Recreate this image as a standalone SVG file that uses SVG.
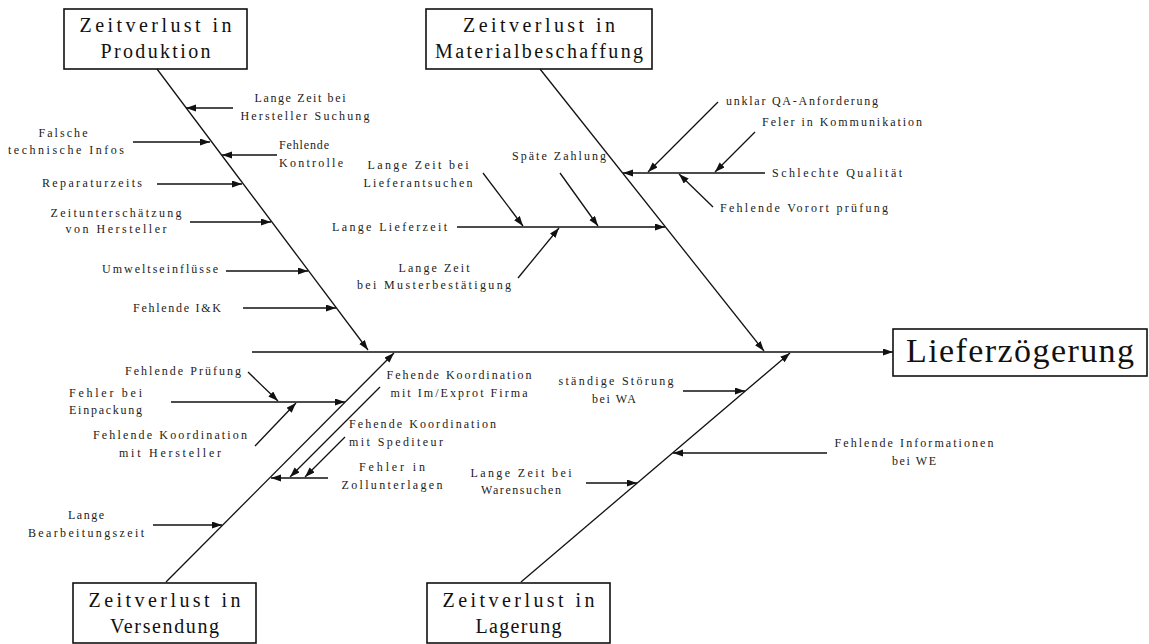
<svg xmlns="http://www.w3.org/2000/svg" width="1149" height="644" viewBox="0 0 1149 644">
  <style>
    .box { fill: #fff; stroke: #111; stroke-width: 1.6; }
    .title { font-family: "Liberation Serif", "DejaVu Serif", serif; font-size: 20px; fill: #111; text-anchor: middle; }
    .effect { font-family: "Liberation Serif", "DejaVu Serif", serif; font-size: 34px; fill: #111; text-anchor: middle; }
    .lbl { font-family: "Liberation Serif", "DejaVu Serif", serif; font-size: 12px; fill: #222; }
    .mid { text-anchor: middle; }
    .edge { stroke: #111; stroke-width: 1.3; fill: none; marker-end: url(#arrow); }
    .main { stroke-width: 1.6; }
  </style>
  <defs>
    <marker id="arrow" markerUnits="userSpaceOnUse" markerWidth="11" markerHeight="8" refX="10" refY="3.5" orient="auto">
      <path d="M0,0 L10,3.5 L0,7 z" fill="#111"/>
    </marker>
  </defs>
  <rect width="1149" height="644" fill="#fff"/>

  <!-- category boxes -->
  <g id="produktion">
    <rect class="box" x="64" y="9" width="183" height="60"/>
    <text class="title" x="155.5" y="32" textLength="152" lengthAdjust="spacing">Zeitverlust in</text>
    <text class="title" x="155.5" y="58" textLength="110" lengthAdjust="spacing">Produktion</text>
  </g>
  <g id="materialbeschaffung">
    <rect class="box" x="426" y="9" width="226" height="60"/>
    <text class="title" x="539" y="32" textLength="152" lengthAdjust="spacing">Zeitverlust in</text>
    <text class="title" x="539" y="58" textLength="208" lengthAdjust="spacing">Materialbeschaffung</text>
  </g>
  <g id="versendung">
    <rect class="box" x="73" y="583" width="183" height="60"/>
    <text class="title" x="164.5" y="607" textLength="152" lengthAdjust="spacing">Zeitverlust in</text>
    <text class="title" x="164.5" y="633" textLength="109" lengthAdjust="spacing">Versendung</text>
  </g>
  <g id="lagerung">
    <rect class="box" x="427" y="583" width="183" height="60"/>
    <text class="title" x="518.5" y="607" textLength="152" lengthAdjust="spacing">Zeitverlust in</text>
    <text class="title" x="518.5" y="633" textLength="86" lengthAdjust="spacing">Lagerung</text>
  </g>
  <g id="lieferzoegerung">
    <rect class="box" x="893" y="329" width="254" height="47"/>
    <text class="effect" x="1020" y="362" textLength="228" lengthAdjust="spacing">Lieferzögerung</text>
  </g>

  <!-- cause labels -->
  <g id="causes-produktion" class="lbl">
    <text class="mid" x="300" y="102" textLength="91" lengthAdjust="spacing">Lange Zeit bei</text>
    <text class="mid" x="305" y="120" textLength="129" lengthAdjust="spacing">Hersteller Suchung</text>
    <text class="mid" x="63" y="137" textLength="49" lengthAdjust="spacing">Falsche</text>
    <text class="mid" x="66" y="154" textLength="116" lengthAdjust="spacing">technische Infos</text>
    <text x="279" y="149" textLength="50" lengthAdjust="spacing">Fehlende</text>
    <text x="279" y="167" textLength="64" lengthAdjust="spacing">Kontrolle</text>
    <text x="42" y="187" textLength="100" lengthAdjust="spacing">Reparaturzeits</text>
    <text class="mid" x="116" y="217" textLength="131" lengthAdjust="spacing">Zeitunterschätzung</text>
    <text class="mid" x="116" y="233" textLength="101" lengthAdjust="spacing">von Hersteller</text>
    <text x="102" y="273" textLength="116" lengthAdjust="spacing">Umweltseinflüsse</text>
    <text x="133" y="312" textLength="88" lengthAdjust="spacing">Fehlende I&amp;K</text>
  </g>
  <g id="causes-material" class="lbl">
    <text class="mid" x="418" y="169" textLength="101" lengthAdjust="spacing">Lange Zeit bei</text>
    <text class="mid" x="418" y="187" textLength="109" lengthAdjust="spacing">Lieferantsuchen</text>
    <text x="512" y="160" textLength="94" lengthAdjust="spacing">Späte Zahlung</text>
    <text x="332" y="231" textLength="115" lengthAdjust="spacing">Lange Lieferzeit</text>
    <text class="mid" x="434" y="272" textLength="71" lengthAdjust="spacing">Lange Zeit</text>
    <text class="mid" x="434" y="289" textLength="154" lengthAdjust="spacing">bei Musterbestätigung</text>
    <text x="726" y="105" textLength="152" lengthAdjust="spacing">unklar QA-Anforderung</text>
    <text x="762" y="126" textLength="160" lengthAdjust="spacing">Feler in Kommunikation</text>
    <text x="772" y="177" textLength="130" lengthAdjust="spacing">Schlechte Qualität</text>
    <text x="720" y="212" textLength="168" lengthAdjust="spacing">Fehlende Vorort prüfung</text>
  </g>
  <g id="causes-versendung" class="lbl">
    <text x="125" y="375" textLength="116" lengthAdjust="spacing">Fehlende Prüfung</text>
    <text x="69" y="397" textLength="73" lengthAdjust="spacing">Fehler bei</text>
    <text x="69" y="414" textLength="73" lengthAdjust="spacing">Einpackung</text>
    <text class="mid" x="170" y="439" textLength="154" lengthAdjust="spacing">Fehlende Koordination</text>
    <text class="mid" x="170" y="457" textLength="102" lengthAdjust="spacing">mit Hersteller</text>
    <text class="mid" x="459" y="379" textLength="145" lengthAdjust="spacing">Fehende Koordination</text>
    <text class="mid" x="459" y="397" textLength="137" lengthAdjust="spacing">mit Im/Exprot Firma</text>
    <text x="349" y="428" textLength="147" lengthAdjust="spacing">Fehende Koordination</text>
    <text x="349" y="446" textLength="94" lengthAdjust="spacing">mit Spediteur</text>
    <text class="mid" x="392" y="471" textLength="66" lengthAdjust="spacing">Fehler in</text>
    <text class="mid" x="392" y="489" textLength="101" lengthAdjust="spacing">Zollunterlagen</text>
    <text class="mid" x="86" y="519" textLength="36" lengthAdjust="spacing">Lange</text>
    <text class="mid" x="86" y="537" textLength="116" lengthAdjust="spacing">Bearbeitungszeit</text>
  </g>
  <g id="causes-lagerung" class="lbl">
    <text class="mid" x="616" y="385" textLength="115" lengthAdjust="spacing">ständige Störung</text>
    <text class="mid" x="614" y="403" textLength="44" lengthAdjust="spacing">bei WA</text>
    <text class="mid" x="914" y="447" textLength="159" lengthAdjust="spacing">Fehlende Informationen</text>
    <text class="mid" x="914" y="465" textLength="44" lengthAdjust="spacing">bei WE</text>
    <text class="mid" x="521" y="477" textLength="101" lengthAdjust="spacing">Lange Zeit bei</text>
    <text class="mid" x="521" y="494" textLength="80" lengthAdjust="spacing">Warensuchen</text>
  </g>

  <!-- connectors -->
  <g id="connectors">
    <!-- backbone and category bones -->
    <line class="edge main" x1="252" y1="352" x2="893" y2="352"/>
    <line class="edge" x1="157" y1="69" x2="368" y2="350"/>
    <line class="edge" x1="540" y1="69" x2="764" y2="351"/>
    <line class="edge" x1="166" y1="582" x2="394" y2="353"/>
    <line class="edge" x1="521" y1="582" x2="790" y2="353"/>

    <!-- Produktion -->
    <line class="edge" x1="233" y1="108" x2="186" y2="108"/>
    <line class="edge" x1="133" y1="142" x2="210" y2="142"/>
    <line class="edge" x1="277" y1="155" x2="222" y2="155"/>
    <line class="edge" x1="157" y1="184" x2="242" y2="184"/>
    <line class="edge" x1="190" y1="222" x2="271" y2="222"/>
    <line class="edge" x1="226" y1="271" x2="308" y2="271"/>
    <line class="edge" x1="243" y1="308" x2="336" y2="308"/>

    <!-- Materialbeschaffung -->
    <line class="edge" x1="457" y1="227" x2="665" y2="227"/>
    <line class="edge" x1="483" y1="173" x2="523" y2="226"/>
    <line class="edge" x1="560" y1="173" x2="598" y2="226"/>
    <line class="edge" x1="518" y1="278" x2="559" y2="228"/>
    <line class="edge" x1="765" y1="173" x2="623" y2="173"/>
    <line class="edge" x1="718" y1="102" x2="648" y2="172"/>
    <line class="edge" x1="755" y1="132" x2="715" y2="172"/>
    <line class="edge" x1="713" y1="207" x2="679" y2="174"/>

    <!-- Versendung -->
    <line class="edge" x1="171" y1="402" x2="345" y2="402"/>
    <line class="edge" x1="248" y1="372" x2="278" y2="401"/>
    <line class="edge" x1="255" y1="446" x2="296" y2="403"/>
    <line class="edge" x1="380" y1="387" x2="290" y2="477"/>
    <line class="edge" x1="345" y1="437" x2="305" y2="477"/>
    <line class="edge" x1="328" y1="478" x2="271" y2="478"/>
    <line class="edge" x1="153" y1="525" x2="222" y2="525"/>

    <!-- Lagerung -->
    <line class="edge" x1="683" y1="391" x2="745" y2="391"/>
    <line class="edge" x1="827" y1="453" x2="673" y2="453"/>
    <line class="edge" x1="586" y1="483" x2="637" y2="483"/>
  </g>
</svg>
